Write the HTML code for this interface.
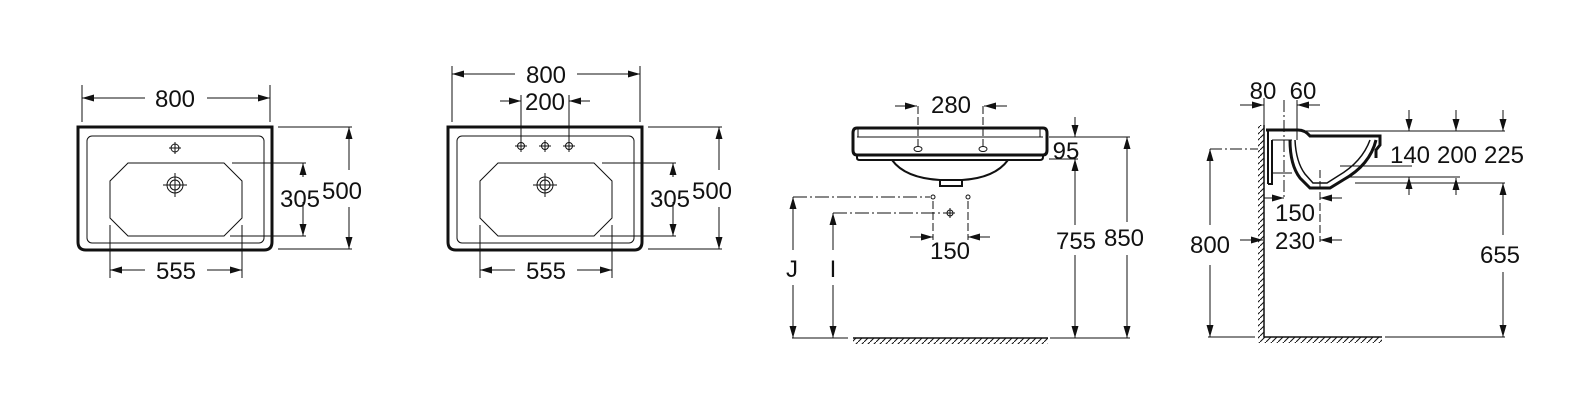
<!DOCTYPE html>
<html><head><meta charset="utf-8"><style>
html,body{margin:0;padding:0;background:#fff}
svg{display:block}
text{font-family:"Liberation Sans",sans-serif;font-size:24px;fill:#111}
</style></head><body>
<svg width="1594" height="413" viewBox="0 0 1594 413" xmlns="http://www.w3.org/2000/svg">
<defs>
<marker id="a" markerUnits="userSpaceOnUse" markerWidth="12" markerHeight="7" refX="12" refY="3.5" orient="auto"><path d="M0,0 L12,3.5 L0,7 z" fill="#111"/></marker>
<pattern id="h" width="6" height="6" patternUnits="userSpaceOnUse"><path d="M0,6 L6,0" stroke="#111" stroke-width="1"/></pattern>
</defs>
<g fill="none" stroke="#111" stroke-width="1">

<g id="body">
<path d="M78,127 H272 V242 Q272,250 264,250 H86 Q78,250 78,242 Z" stroke-width="3"/>
<rect x="87" y="136" width="177" height="107" rx="5"/>
<path d="M128,163 H224 L242,181 V218 L224,236 H128 L110,218 V181 Z"/>
<circle cx="175" cy="185" r="8"/><circle cx="175" cy="185" r="5"/>
<path d="M163,185 H187 M175,173 V197"/>
</g>
<circle cx="175" cy="148" r="4"/><path d="M169,148 H181 M175,142 V154"/>
<path d="M82,85 V122 M270,85 V122"/>
<line x1="145" y1="98" x2="82" y2="98" marker-end="url(#a)"/>
<line x1="207" y1="98" x2="270" y2="98" marker-end="url(#a)"/>
<path d="M278,127 H352 M278,249 H352"/>
<line x1="349" y1="170" x2="349" y2="127" marker-end="url(#a)"/>
<line x1="349" y1="207" x2="349" y2="249" marker-end="url(#a)"/>
<path d="M232,163 H306 M230,236 H306"/>
<line x1="303" y1="177" x2="303" y2="163" marker-end="url(#a)"/>
<line x1="303" y1="202" x2="303" y2="236" marker-end="url(#a)"/>
<path d="M110,225 V278 M242,225 V278"/>
<line x1="145" y1="270" x2="110" y2="270" marker-end="url(#a)"/>
<line x1="207" y1="270" x2="242" y2="270" marker-end="url(#a)"/>

<use href="#body" x="370" y="0"/>
<circle cx="521" cy="146" r="3.5"/><path d="M515,146 H527 M521,140 V152"/>
<circle cx="545" cy="146" r="3.5"/><path d="M539,146 H551 M545,140 V152"/>
<circle cx="569" cy="146" r="3.5"/><path d="M563,146 H575 M569,140 V152"/>
<path d="M521,95 V140 M569,95 V140"/>
<line x1="500" y1="101" x2="521" y2="101" marker-end="url(#a)"/>
<line x1="590" y1="101" x2="569" y2="101" marker-end="url(#a)"/>
<path d="M452,66 V122 M640,66 V122"/>
<line x1="515" y1="74" x2="452" y2="74" marker-end="url(#a)"/>
<line x1="577" y1="74" x2="640" y2="74" marker-end="url(#a)"/>
<path d="M648,127 H722 M648,249 H722"/>
<line x1="719" y1="170" x2="719" y2="127" marker-end="url(#a)"/>
<line x1="719" y1="207" x2="719" y2="249" marker-end="url(#a)"/>
<path d="M602,163 H676 M600,236 H676"/>
<line x1="673" y1="177" x2="673" y2="163" marker-end="url(#a)"/>
<line x1="673" y1="202" x2="673" y2="236" marker-end="url(#a)"/>
<path d="M480,225 V278 M612,225 V278"/>
<line x1="515" y1="270" x2="480" y2="270" marker-end="url(#a)"/>
<line x1="577" y1="270" x2="612" y2="270" marker-end="url(#a)"/>

<path d="M857,128 H1043 Q1047,128 1047,133 V150 Q1047,155 1043,155 H857 Q853,155 853,150 V133 Q853,128 857,128 Z" stroke-width="3"/>
<path d="M857,155 V158 Q857,160 860,160 H1040 Q1043,160 1043,157 V155" stroke-width="2"/>
<path d="M857,137 H1043 M858,129 V137 M1040,129 V137"/>
<path d="M892,160 Q905,178 940,180 H962 Q995,178 1008,160" stroke-width="2"/>
<path d="M940,180 V186 H962 V180" stroke-width="2"/>
<ellipse cx="918" cy="149" rx="4" ry="2.5"/><ellipse cx="983" cy="149" rx="4" ry="2.5"/>
<path d="M918,106 V147 M983,106 V147" stroke-dasharray="8,3"/>
<line x1="895" y1="106" x2="917" y2="106" marker-end="url(#a)"/>
<line x1="1007" y1="106" x2="984" y2="106" marker-end="url(#a)"/>
<path d="M1049,137 H1130 M1049,159 H1078"/>
<line x1="1075" y1="117" x2="1075" y2="137" marker-end="url(#a)"/>
<line x1="1075" y1="225" x2="1075" y2="159" marker-end="url(#a)"/>
<line x1="1075" y1="255" x2="1075" y2="338" marker-end="url(#a)"/>
<line x1="1127" y1="222" x2="1127" y2="137" marker-end="url(#a)"/>
<line x1="1127" y1="255" x2="1127" y2="338" marker-end="url(#a)"/>
<path d="M792,338 H848 M1050,338 H1130"/>
<rect x="853" y="338" width="195" height="6" fill="url(#h)" stroke="none"/>
<path d="M853,338 H1048" stroke-width="1.5"/>
<path d="M793,197 H930 M833,213 H946" stroke-dasharray="14,3,2,3"/>
<circle cx="933" cy="197" r="2"/><circle cx="968" cy="197" r="2"/>
<circle cx="950" cy="213" r="3"/><path d="M945,213 H955 M950,208 V218"/>
<path d="M933,201 V240 M968,201 V240" stroke-dasharray="8,3"/>
<line x1="910" y1="237" x2="933" y2="237" marker-end="url(#a)"/>
<line x1="990" y1="237" x2="968" y2="237" marker-end="url(#a)"/>
<line x1="793" y1="250" x2="793" y2="197" marker-end="url(#a)"/>
<line x1="793" y1="285" x2="793" y2="338" marker-end="url(#a)"/>
<line x1="833" y1="250" x2="833" y2="213" marker-end="url(#a)"/>
<line x1="833" y1="285" x2="833" y2="338" marker-end="url(#a)"/>

<rect x="1258" y="125" width="6" height="218" fill="url(#h)" stroke="none"/>
<path d="M1264,125 V337 H1382" stroke-width="1.5"/>
<rect x="1264" y="337" width="118" height="6" fill="url(#h)" stroke="none"/>
<path d="M1208,337 H1255 M1385,337 H1505"/>
<path d="M1266,130 H1298 Q1305,130 1310,136 H1380 V145 L1376,150 V158" stroke-width="3"/>
<path d="M1268,130 V184 M1272,140 V184 H1268" stroke-width="2"/>
<path d="M1272,140 H1292 M1272,173 H1292"/>
<path d="M1290,140 Q1290,165 1300,178 L1310,188 H1330 L1343,180 Q1370,165 1376,140" stroke-width="3"/>
<path d="M1295,140 Q1296,162 1305,174 L1313,183 H1327 L1338,176 Q1362,162 1370,140" stroke-width="1.5"/>
<path d="M1266,131 H1505 M1340,166 H1412 M1350,177 H1460 M1355,183 H1505"/>
<path d="M1284,100 V200" stroke-dasharray="12,3,2,3"/>
<path d="M1297,100 V140 M1264,98 V125"/>
<line x1="1240" y1="105" x2="1264" y2="105" marker-end="url(#a)"/>
<line x1="1320" y1="105" x2="1297" y2="105" marker-end="url(#a)"/>
<line x1="1409" y1="110" x2="1409" y2="131" marker-end="url(#a)"/>
<line x1="1409" y1="195" x2="1409" y2="177" marker-end="url(#a)"/>
<line x1="1456" y1="110" x2="1456" y2="131" marker-end="url(#a)"/>
<line x1="1456" y1="195" x2="1456" y2="178" marker-end="url(#a)"/>
<line x1="1503" y1="110" x2="1503" y2="131" marker-end="url(#a)"/>
<line x1="1503" y1="235" x2="1503" y2="183" marker-end="url(#a)"/>
<line x1="1503" y1="272" x2="1503" y2="337" marker-end="url(#a)"/>
<path d="M1320,170 V242" stroke-dasharray="8,3"/>
<line x1="1264" y1="198" x2="1284" y2="198" marker-end="url(#a)"/>
<line x1="1342" y1="198" x2="1320" y2="198" marker-end="url(#a)"/>
<line x1="1240" y1="240" x2="1263" y2="240" marker-end="url(#a)"/>
<line x1="1342" y1="240" x2="1320" y2="240" marker-end="url(#a)"/>
<path d="M1210,149 H1258" stroke-dasharray="12,3,2,3"/>
<line x1="1210" y1="225" x2="1210" y2="149" marker-end="url(#a)"/>
<line x1="1210" y1="265" x2="1210" y2="337" marker-end="url(#a)"/>
</g>

<g text-anchor="middle">
<text x="175" y="107">800</text>
<text x="342" y="199">500</text>
<text x="300" y="207">305</text>
<text x="176" y="279">555</text>
<text x="546" y="83">800</text>
<text x="545" y="110">200</text>
<text x="712" y="199">500</text>
<text x="670" y="207">305</text>
<text x="546" y="279">555</text>
<text x="951" y="113">280</text>
<text x="1066" y="159">95</text>
<text x="1076" y="249">755</text>
<text x="1124" y="246">850</text>
<text x="950" y="259">150</text>
<text x="792" y="277">J</text>
<text x="833" y="277">I</text>
<text x="1263" y="99">80</text>
<text x="1303" y="99">60</text>
<text x="1410" y="163">140</text>
<text x="1457" y="163">200</text>
<text x="1504" y="163">225</text>
<text x="1295" y="221">150</text>
<text x="1295" y="249">230</text>
<text x="1210" y="253">800</text>
<text x="1500" y="263">655</text>
</g>
</svg>
</body></html>
